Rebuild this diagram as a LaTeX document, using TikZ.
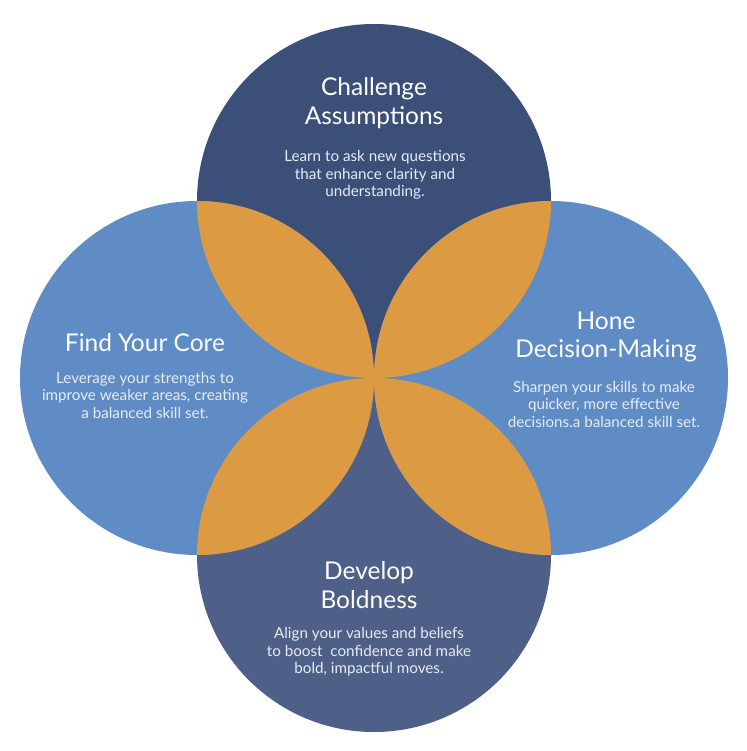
\documentclass[tikz,border=0pt]{standalone}
\usepackage{fontspec}
\setmainfont{Lato}
\definecolor{topc}{HTML}{3B4F79}
\definecolor{sidec}{HTML}{5F8CC4}
\definecolor{botc}{HTML}{4E5F88}
\definecolor{lensc}{HTML}{DC9B43}
\definecolor{bodyc}{HTML}{E6ECF6}
\begin{document}
\begin{tikzpicture}[x=1pt,y=-1pt,
  title/.style={text=white,align=center,font=\fontsize{24.5}{28.5}\selectfont,inner sep=0pt},
  body/.style={text=bodyc,align=center,font=\fontsize{15.2}{17.5}\selectfont,inner sep=0pt}]
\useasboundingbox (0,0) rectangle (746,751);
\fill[white] (0,0) rectangle (746,751);
\def\R{177}
\coordinate (T) at (374,201);
\coordinate (L) at (197,378);
\coordinate (Rt) at (551,378);
\coordinate (B) at (374,555);
\fill[topc] (T) circle (\R);
\fill[botc] (B) circle (\R);
\fill[sidec] (L) circle (\R);
\fill[sidec] (Rt) circle (\R);
\begin{scope}\clip (T) circle (\R); \fill[lensc] (L) circle (\R); \fill[lensc] (Rt) circle (\R);\end{scope}
\begin{scope}\clip (B) circle (\R); \fill[lensc] (L) circle (\R); \fill[lensc] (Rt) circle (\R);\end{scope}
% texts
\node[title] (tt) at (374,103) {Challenge\\Assumptions};
\node[body] (tb) at (375,175) {Learn to ask new questions\\that enhance clarity and\\understanding.};
\node[title] (lt) at (145,343) {Find Your Core};
\node[body] (lb) at (145,395) {Leverage your strengths to\\improve weaker areas, creating\\a balanced skill set.};
\node[title] (rt) at (606,337) {Hone\\Decision-Making};
\node[body] (rb) at (604,404) {Sharpen your skills to make\\quicker, more effective\\decisions.a balanced skill set.};
\node[title] (bt) at (369,585) {Develop\\Boldness};
\node[body] (bb) at (369,652) {Align your values and beliefs\\to boost\ \ confidence and make\\bold, impactful moves.};
\end{tikzpicture}
\end{document}
